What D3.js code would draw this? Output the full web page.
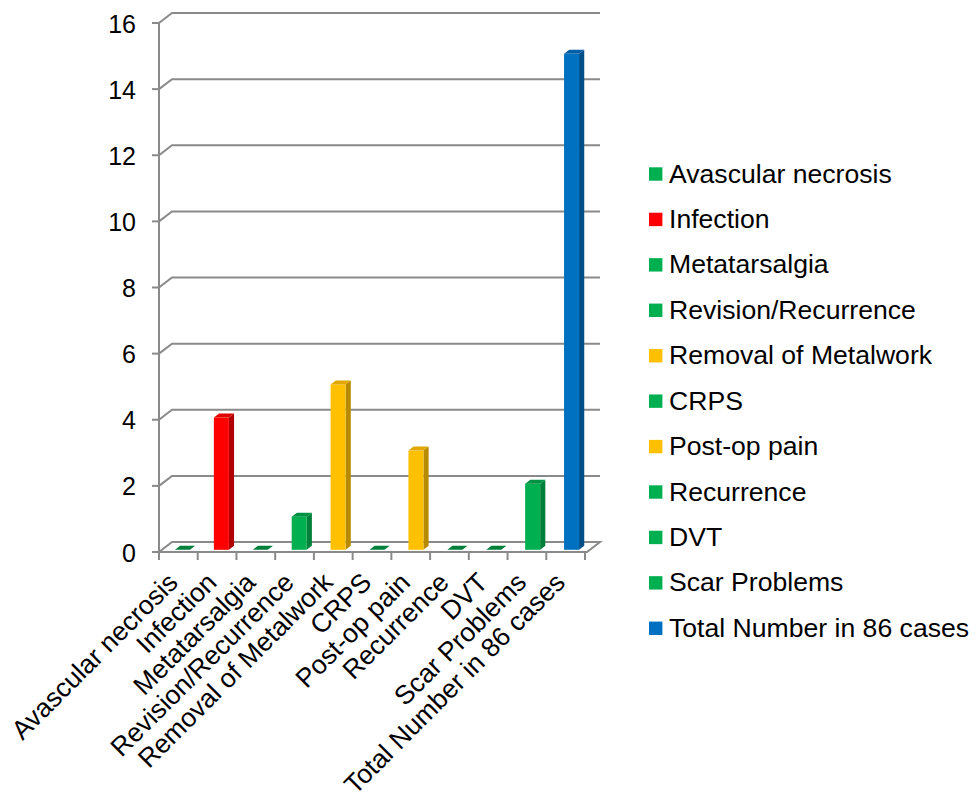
<!DOCTYPE html>
<html>
<head>
<meta charset="utf-8">
<script src="https://cdn.jsdelivr.net/npm/d3@7"></script>
<style>
  html, body { margin: 0; padding: 0; background: #fff; }
  svg { display: block; font-family: "Liberation Sans", Arial, sans-serif; }
</style>
</head>
<body>
<svg id="chart" width="976" height="798"></svg>
<script>
// Complications recorded across 86 cases
const categories = [
  "Avascular necrosis", "Infection", "Metatarsalgia", "Revision/Recurrence",
  "Removal of Metalwork", "CRPS", "Post-op pain", "Recurrence", "DVT",
  "Scar Problems", "Total Number in 86 cases"
];
const values = [0, 4, 0, 1, 5, 0, 3, 0, 0, 2, 15];
const colorGroups = ["green", "red", "green", "green", "yellow", "green", "yellow", "green", "green", "green", "blue"];
const yTicks = [0, 2, 4, 6, 8, 10, 12, 14, 16];

const palette = {
  green:  { front: "#00B050", side: "#00803A", top: "#009244" },
  red:    { front: "#FF0000", side: "#B00000", top: "#E00000" },
  yellow: { front: "#FFC000", side: "#B88A00", top: "#E0A800" },
  blue:   { front: "#0070C0", side: "#004E88", top: "#005FA6" }
};

const svg = d3.select("#chart");
const gridColor = "#8a8a8a";

// 3D frame: front plane and back wall offset
const depthX = 13, depthY = -10;
const x0 = 159, x1 = 585;
const yFront = d3.scaleLinear().domain([0, 16]).range([552, 23]);
const yBack = v => yFront(v) + depthY;

// category axis (front plane)
const x = d3.scaleBand().domain(categories).range([x0, x1]).padding(0);
// bars sit a little into the depth of the plot
const barDepthStart = 0.22, barDepth = 0.4;
const xBar = d3.scaleBand().domain(categories).range([x0 + 4, x1 + 6]).padding(0);
const barW = 15;
const yBar = d3.scaleLinear().domain([0, 16]).range([yFront(0) + depthY * barDepthStart, yFront(16) + depthY * barDepthStart]);
const bdx = depthX * barDepth, bdy = depthY * barDepth;

const grid = svg.append("g").attr("fill", "none").attr("stroke", gridColor).attr("stroke-width", 2);

// back wall gridlines with diagonal connectors to the axis
yTicks.forEach(v => {
  if (v === 0) return;
  grid.append("path")
    .attr("d", `M${x0},${yFront(v)} L${x0 + depthX},${yBack(v)} L${x1 + depthX + 2},${yBack(v)}`);
});

// floor
grid.append("path")
  .attr("d", `M${x0},${yFront(0)} L${x0 + depthX},${yBack(0)} L${x1 + depthX + 2},${yBack(0)} L${x1 + 2},${yFront(0)} Z`);

// value axis line and ticks
grid.append("line").attr("x1", x0).attr("x2", x0).attr("y1", yFront(16)).attr("y2", yFront(0) + 8);
yTicks.forEach(v => {
  grid.append("line").attr("x1", x0 - 7).attr("x2", x0).attr("y1", yFront(v)).attr("y2", yFront(v));
});

// category ticks at band boundaries
const boundaries = categories.map(c => x(c)).concat([x1]);
boundaries.forEach(bx => {
  grid.append("line").attr("x1", bx).attr("x2", bx).attr("y1", yFront(0)).attr("y2", yFront(0) + 8);
});

// value labels
svg.append("g").selectAll("text").data(yTicks).join("text")
  .attr("x", 136)
  .attr("y", d => yFront(d) + 9.5)
  .attr("text-anchor", "end")
  .attr("font-size", 25)
  .attr("fill", "#000")
  .text(d => d);

// bars
const bars = svg.append("g");
categories.forEach((c, i) => {
  const col = palette[colorGroups[i]];
  const cx = xBar(c) + xBar.bandwidth() / 2;
  const xl = cx - barW / 2, xr = cx + barW / 2;
  const yb = yBar(0), yt = yBar(values[i]);
  const g = bars.append("g");
  if (values[i] > 0) {
    g.append("path").attr("fill", col.side)
      .attr("d", `M${xr},${yt} L${xr + bdx},${yt + bdy} L${xr + bdx},${yb + bdy} L${xr},${yb} Z`);
    g.append("rect").attr("fill", col.front)
      .attr("x", xl).attr("y", yt).attr("width", barW).attr("height", yb - yt);
  }
  g.append("path").attr("fill", values[i] > 0 ? col.top : col.side)
    .attr("d", `M${xl},${yt} L${xr},${yt} L${xr + bdx},${yt + bdy} L${xl + bdx},${yt + bdy} Z`);
});

// rotated category labels
svg.append("g").selectAll("text").data(categories).join("text")
  .attr("transform", d => `translate(${x(d) + x.bandwidth() / 2 + 1},${584}) rotate(-45)`)
  .attr("text-anchor", "end")
  .attr("font-size", 26.5)
  .attr("fill", "#000")
  .text(d => d);

// legend
const legend = svg.append("g");
categories.forEach((c, i) => {
  const cy = 174 + i * 45.43;
  legend.append("rect")
    .attr("x", 649).attr("y", cy - 6.7).attr("width", 13.4).attr("height", 13.4)
    .attr("fill", palette[colorGroups[i]].front);
  legend.append("text")
    .attr("x", 669).attr("y", cy + 8.5)
    .attr("font-size", 26.6)
    .attr("fill", "#000")
    .text(c);
});
</script>
</body>
</html>
